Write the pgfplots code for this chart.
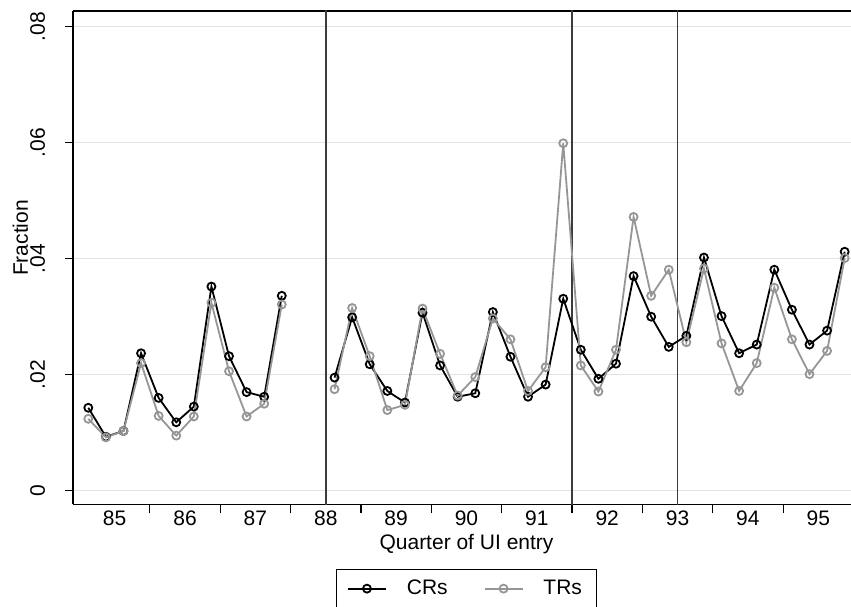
\documentclass[border=0pt]{standalone}
\usepackage{pgfplots}
\pgfplotsset{compat=1.18}
\usepackage{fontspec}
\setmainfont{Liberation Sans}
\definecolor{trgray}{RGB}{150,150,150}
\definecolor{gridgray}{RGB}{226,226,226}
\definecolor{vline}{RGB}{60,60,60}

% x = year + (quarter-1)/4
\pgfplotstableread{
x      cr      tr
85.00  0.0143  0.0124
85.25  0.0093  0.0092
85.50  0.0103  0.0103
85.75  0.0237  0.0220
86.00  0.0160  0.0129
86.25  0.0118  0.0095
86.50  0.0145  0.0128
86.75  0.0352  0.0324
87.00  0.0232  0.0206
87.25  0.0170  0.0128
87.50  0.0162  0.0150
87.75  0.0336  0.0321
88.00  nan     nan
88.50  0.0195  0.0175
88.75  0.0299  0.0315
89.00  0.0218  0.0232
89.25  0.0172  0.0139
89.50  0.0152  0.0148
89.75  0.0307  0.0314
90.00  0.0216  0.0236
90.25  0.0162  0.0164
90.50  0.0168  0.0196
90.75  0.0308  0.0297
91.00  0.0231  0.0261
91.25  0.0162  0.0172
91.50  0.0183  0.0213
91.75  0.0331  0.0599
92.00  0.0243  0.0216
92.25  0.0193  0.0171
92.50  0.0219  0.0243
92.75  0.0370  0.0472
93.00  0.0300  0.0336
93.25  0.0248  0.0381
93.50  0.0267  0.0256
93.75  0.0402  0.0383
94.00  0.0301  0.0254
94.25  0.0237  0.0172
94.50  0.0252  0.0220
94.75  0.0381  0.0350
95.00  0.0312  0.0261
95.25  0.0252  0.0201
95.50  0.0276  0.0241
95.75  0.0412  0.0401
}\quarters

\begin{document}
\begin{tikzpicture}[font=\fontsize{10.5}{12.6}\selectfont]
\path[use as bounding box] (-36.65pt,-50.85pt) rectangle (388.85pt,252.15pt);
\begin{axis}[
    at={(0,0)}, anchor=south west,
    width=388.85pt, height=246.65pt, scale only axis,
    xmin=84.787, xmax=95.84,
    ymin=-0.00234, ymax=0.0827,
    axis x line*=box, axis y line*=left,
    axis line style={-, black, line width=0.8pt},
    xtick pos=bottom, ytick pos=left,
    tick align=outside,
    scaled y ticks=false,
    xtick={85.375,86.375,87.375,88.375,89.375,90.375,91.375,92.375,93.375,94.375,95.375},
    xticklabels={85,86,87,88,89,90,91,92,93,94,95},
    minor xtick={85.875,86.875,87.875,88.875,89.875,90.875,91.875,92.875,93.875,94.875},
    major x tick style={draw=none},
    minor x tick style={black, line width=0.6pt},
    minor tick length=4.5pt,
    major tick length=4pt,
    ytick={0,0.02,0.04,0.06,0.08},
    yticklabels={0,.02,.04,.06,.08},
    major y tick style={black, line width=0.6pt},
    ymajorgrids,
    grid style={gridgray, line width=0.75pt},
    xticklabel style={anchor=north, inner sep=0pt},
    xticklabel shift=-0.7pt,
    yticklabel style={xshift=-1pt, rotate=90, anchor=south, inner sep=0pt},
    yticklabel shift=8.9pt,
    xlabel={Quarter of UI entry},
    xlabel style={at={(axis description cs:0.5056,-0.0592)}, anchor=north, inner sep=0pt},
    ylabel={Fraction},
    ylabel style={at={(axis description cs:-0.0576,0.54)}, anchor=south, inner sep=0pt},
    unbounded coords=jump,
    legend columns=2,
    legend style={at={(axis description cs:0.5056,-0.1318)}, anchor=north,
        draw=black, line width=0.5pt, inner xsep=5.5pt, inner ysep=3pt,
        /tikz/every even column/.append style={column sep=16pt}},
    legend image code/.code={
        \draw[#1, mark repeat=2, mark phase=2] plot coordinates {(0pt,0pt) (9.5pt,0pt) (19pt,0pt)};
        \path (27pt,0pt);
    },
]
\addplot[vline, line width=0.8pt, forget plot] coordinates {(88.375,-0.01) (88.375,0.1)};
\addplot[vline, line width=0.8pt, forget plot] coordinates {(91.875,-0.01) (91.875,0.1)};
\addplot[vline, line width=0.8pt, forget plot] coordinates {(93.375,-0.01) (93.375,0.1)};

\addplot[black, line width=0.9pt, mark=o, mark size=2pt, mark options={line width=0.9pt}]
    table[x=x, y=cr] {\quarters};
\addlegendentry{CRs}
\addplot[trgray, line width=0.9pt, mark=o, mark size=2pt, mark options={line width=0.9pt}]
    table[x=x, y=tr] {\quarters};
\addlegendentry{TRs}
\end{axis}
\end{tikzpicture}
\end{document}
